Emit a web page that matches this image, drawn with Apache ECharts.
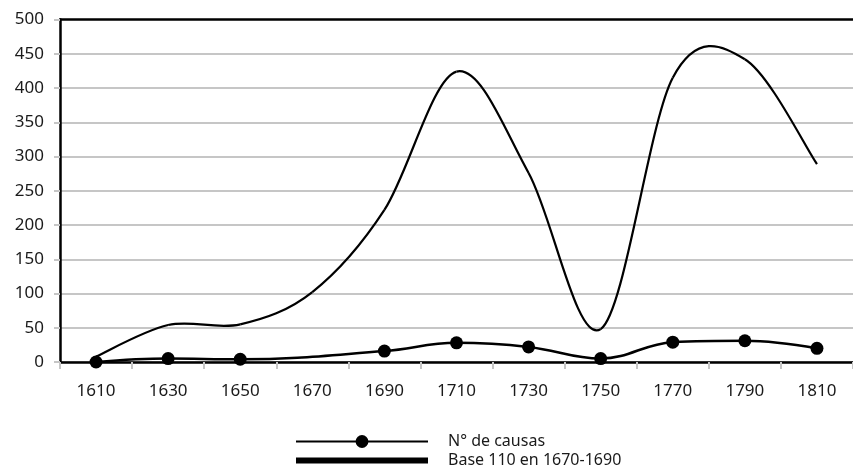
<!DOCTYPE html>
<html>
<head>
<meta charset="utf-8">
<script src="https://cdn.jsdelivr.net/npm/echarts@6/dist/echarts.min.js"></script>
<style>
  html, body { margin: 0; padding: 0; background: #fff; }
  #chart { width: 853px; height: 471px; }
</style>
</head>
<body>
<div id="chart"></div>
<script>
// decades on the x axis
const years = ['1610', '1630', '1650', '1670', '1690', '1710', '1730', '1750', '1770', '1790', '1810'];
// number of cases (no point in 1670)
const causas = [0, 5, 4, null, 16, 28, 22, 5, 29, 31, 20];
// index, base 110 in 1670-1690
const base110 = [8, 54, 55, 102, 222, 424, 276, 48, 415, 442, 289];

const chart = echarts.init(document.getElementById('chart'));
const font = 'Noto Sans';

// excel-like smoothed segment (catmull-rom) from point i to i+1
const renderSpline = (params, api) => {
  const i = params.dataIndex;
  const n = params.dataInsideLength;
  if (i >= n - 1) return;
  const pt = (k) => {
    k = Math.max(0, Math.min(n - 1, k));
    return api.coord([api.value(0, k), api.value(1, k)]);
  };
  const p0 = pt(i - 1), p1 = pt(i), p2 = pt(i + 1), p3 = pt(i + 2);
  return {
    type: 'bezierCurve',
    shape: {
      x1: p1[0], y1: p1[1],
      cpx1: p1[0] + (p2[0] - p0[0]) / 6, cpy1: p1[1] + (p2[1] - p0[1]) / 6,
      cpx2: p2[0] - (p3[0] - p1[0]) / 6, cpy2: p2[1] - (p3[1] - p1[1]) / 6,
      x2: p2[0], y2: p2[1]
    },
    style: { stroke: '#000', lineWidth: 2.2, fill: null }
  };
};

chart.setOption({
  animation: false,
  textStyle: { fontFamily: font },
  grid: { left: 60, top: 19.5, bottom: 109, right: -9 },
  legend: {
    orient: 'vertical',
    left: 295,
    top: 432,
    padding: 0,
    itemWidth: 132,
    itemHeight: 16,
    itemGap: 0,
    height: 80,
    textStyle: { fontFamily: font, fontSize: 16, lineHeight: 19, color: '#1a1a1a', padding: [0, 0, 0, 15] },
    data: [
      { name: 'N° de causas' },
      { name: 'Base 110 en 1670-1690', icon: 'path://M0,0H132V6H0Z', itemStyle: { color: '#000' } }
    ]
  },
  xAxis: [
    {
      type: 'category',
      data: years,
      axisLine: { lineStyle: { color: '#000', width: 2.5 } },
      axisTick: { show: true, interval: 0, length: 7, lineStyle: { color: '#c6c6c6', width: 2 } },
      axisLabel: { interval: 0, margin: 21, fontSize: 17, color: '#1a1a1a', fontFamily: font }
    },
    {
      type: 'category',
      data: years,
      position: 'top',
      axisLine: { lineStyle: { color: '#000', width: 2.5 } },
      axisTick: { show: false },
      axisLabel: { show: false }
    }
  ],
  yAxis: {
    type: 'value',
    min: 0,
    max: 500,
    interval: 50,
    axisLine: { show: true, lineStyle: { color: '#000', width: 2.5 } },
    axisTick: { show: true, length: 6, lineStyle: { color: '#c6c6c6', width: 2 } },
    axisLabel: { margin: 16, fontSize: 17, color: '#1a1a1a', fontFamily: font },
    splitLine: { showMaxLine: false, lineStyle: { color: '#c6c6c6', width: 2 } }
  },
  series: [
    {
      name: 'N° de causas',
      type: 'line',
      data: causas,
      smooth: 0.4,
      connectNulls: true,
      symbol: 'circle',
      symbolSize: 13,
      itemStyle: { color: '#000' },
      lineStyle: { color: '#000', width: 2.5 },
      z: 3
    },
    {
      name: 'Base 110 en 1670-1690',
      type: 'custom',
      data: base110.map((v, i) => [i, v]),
      encode: { x: 0, y: 1 },
      itemStyle: { color: '#000' },
      renderItem: renderSpline,
      z: 2
    }
  ]
});

window.addEventListener('resize', () => {
  chart.resize();
});
</script>
</body>
</html>
